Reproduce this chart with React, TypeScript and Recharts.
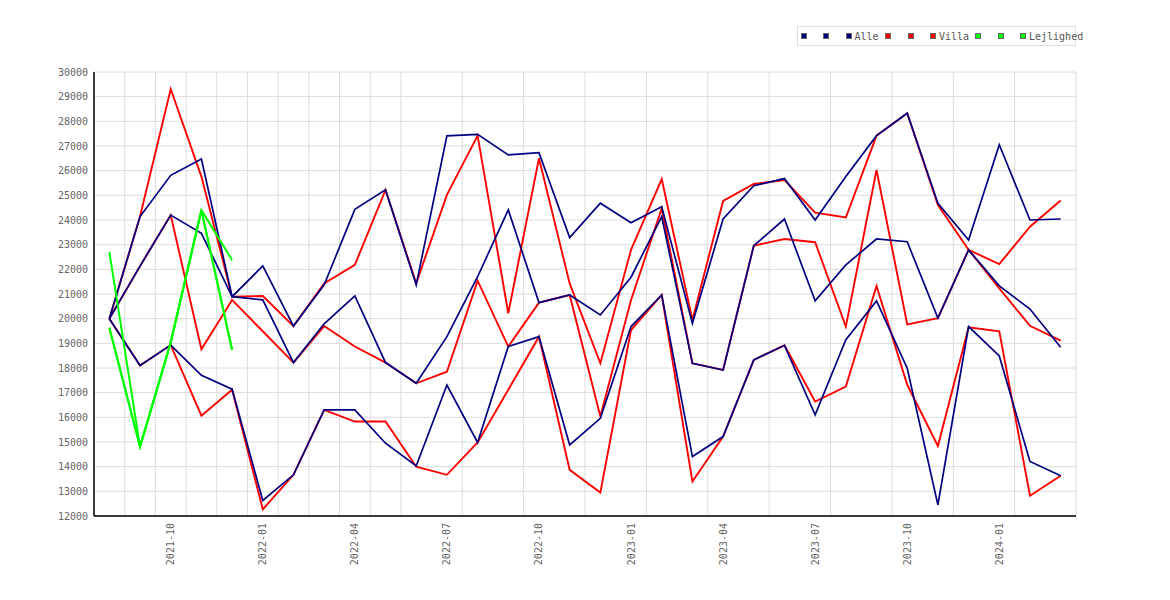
import React from 'react'
import { LineChart, Line, XAxis, YAxis, CartesianGrid } from 'recharts'

const months = [
  '2021-08', '2021-09', '2021-10', '2021-11', '2021-12',
  '2022-01', '2022-02', '2022-03', '2022-04', '2022-05', '2022-06',
  '2022-07', '2022-08', '2022-09', '2022-10', '2022-11', '2022-12',
  '2023-01', '2023-02', '2023-03', '2023-04', '2023-05', '2023-06',
  '2023-07', '2023-08', '2023-09', '2023-10', '2023-11', '2023-12',
  '2024-01', '2024-02', '2024-03',
]
const labelMonths = ['2021-10', '2022-01', '2022-04', '2022-07', '2022-10', '2023-01', '2023-04', '2023-07', '2023-10', '2024-01']
const yTicks = [12000, 13000, 14000, 15000, 16000, 17000, 18000, 19000, 20000, 21000,
  22000, 23000, 24000, 25000, 26000, 27000, 28000, 29000, 30000]

// Alle
const alle1 = [20000, 24140, 25810, 26470, 20890, 22140, 19700, 21370, 24430, 25220, 21370,
  27410, 27470, 26640, 26730, 23290, 24680, 23890, 24540, 19810, 24040, 25390, 25680,
  24000, 25760, 27420, 28330, 24680, 23190, 27050, 24000, 24040]
const alle2 = [20000, 22130, 24200, 23460, 20890, 20760, 18220, 19790, 20920, 18220, 17380,
  19270, 21700, 24410, 20650, 20960, 20150, 21680, 24140, 18190, 17920, 22960, 24040,
  20720, 22180, 23230, 23120, 20020, 22790, 21330, 20390, 18840]
const alle3 = [20000, 18100, 18930, 17700, 17140, 12630, 13670, 16300, 16300, 14950, 14030,
  17310, 14980, 18870, 19270, 14880, 15960, 19680, 20960, 14410, 15220, 18330, 18920,
  16100, 19150, 20720, 17990, 12450, 19680, 18490, 14210, 13630]

// Villa
const villa1 = [20000, 24140, 29310, 25760, 20890, 20920, 19700, 21430, 22180, 25220, 21430,
  25020, 27420, 20220, 26500, 21430, 18190, 22790, 25660, 19950, 24770, 25460, 25620,
  24300, 24100, 27420, 28330, 24610, 22790, 22210, 23730, 24790]
const villa2 = [20000, 22130, 24200, 18760, 20760, 19490, 18220, 19700, 18870, 18220, 17380,
  17850, 21540, 18870, 20650, 20960, 16030, 20760, 24470, 18190, 17920, 22960, 23230,
  23100, 19680, 26030, 19770, 20020, 22790, 21230, 19710, 19110]
const villa3 = [20000, 18100, 18930, 16070, 17120, 12270, 13670, 16300, 15830, 15830, 14000,
  13670, 14980, 17120, 19270, 13870, 12950, 19540, 20960, 13400, 15220, 18330, 18920,
  16640, 17250, 21330, 17320, 14840, 19650, 19490, 12820, 13630]

// Lejlighed (only the first months)
const lejl1 = [22710, 14810, 19030, 24400, 22380]
const lejl2 = [19630, 14810, 19030, 24400, 18730]
const lejl3 = [19630, 14810, 19030, 24400, 18730]

const legendGroups = [
  { name: 'Alle', color: '#000080' },
  { name: 'Villa', color: '#ff0000' },
  { name: 'Lejlighed', color: '#00ff00' },
]

const data = months.map((m, i) => ({
  i,
  month: m,
  a1: alle1[i], a2: alle2[i], a3: alle3[i],
  v1: villa1[i], v2: villa2[i], v3: villa3[i],
  l1: lejl1[i] ?? null, l2: lejl2[i] ?? null, l3: lejl3[i] ?? null,
}))

const labelTicks = labelMonths.map((m) => months.indexOf(m))
const gridTicks = months.map((_, i) => i + 0.5)

const FONT = '"DejaVu Sans Mono", monospace'

const MonthTick = (props: any) => {
  const { x, y, payload } = props
  return (
    <text
      x={x}
      y={y}
      transform={`rotate(-90, ${x}, ${y})`}
      textAnchor="end"
      dominantBaseline="central"
      fontSize={10}
      fontFamily={FONT}
      fill="#666"
    >
      {months[payload.value]}
    </text>
  )
}

// legend group starts, relative to the legend box
const groupLeft = [3.7, 88.3, 178.3]

function LegendBox() {
  return (
    <div
      style={{
        position: 'absolute', left: 789, top: 18, width: 279, height: 20, boxSizing: 'border-box',
        border: '1px solid #ddd', background: '#fff', fontFamily: FONT, fontSize: 10, color: '#555',
        whiteSpace: 'nowrap', overflow: 'visible',
      }}
    >
      {legendGroups.map((g, gi) => (
        <div key={g.name} style={{ position: 'absolute', left: groupLeft[gi] - 1, top: 0, height: 18, display: 'flex', alignItems: 'center' }}>
          {[0, 1, 2].map((k) => (
            <span
              key={k}
              style={{
                display: 'inline-block', width: 4, height: 4, background: g.color,
                border: '1px solid #666', marginRight: k < 2 ? 16.5 : 2.7,
              }}
            />
          ))}
          <span>{g.name}</span>
        </div>
      ))}
    </div>
  )
}

export default function App() {
  const base = { type: 'linear' as const, dot: false, activeDot: false, isAnimationActive: false }
  return (
    <div style={{ position: 'relative', width: 1162, height: 584, background: '#fff' }}>
      <LineChart width={1162} height={584} data={data} margin={{ top: 64, right: 94, left: 0, bottom: 16 }}>
        <XAxis xAxisId="grid" type="number" dataKey="i" domain={[-0.5, 31.5]} ticks={gridTicks} hide />
        <CartesianGrid xAxisId="grid" stroke="#dcdcdc" strokeWidth={1} />
        <XAxis
          type="number"
          dataKey="i"
          domain={[-0.5, 31.5]}
          ticks={labelTicks}
          interval={0}
          height={60}
          tickLine={false}
          tickSize={0}
          tickMargin={7}
          axisLine={{ stroke: '#000', strokeWidth: 1.5 }}
          tick={<MonthTick />}
        />
        <YAxis
          domain={[12000, 30000]}
          ticks={yTicks}
          interval={0}
          width={86}
          tickLine={false}
          tickSize={0}
          tickMargin={6}
          axisLine={{ stroke: '#000', strokeWidth: 1.5 }}
          tick={{ fontSize: 10, fontFamily: FONT, fill: '#666' }}
        />
        <Line dataKey="v1" stroke="#ff0000" strokeWidth={1.9} {...base} />
        <Line dataKey="v2" stroke="#ff0000" strokeWidth={1.9} {...base} />
        <Line dataKey="v3" stroke="#ff0000" strokeWidth={1.9} {...base} />
        <Line dataKey="a1" stroke="#000080" strokeWidth={1.7} {...base} />
        <Line dataKey="a2" stroke="#000080" strokeWidth={1.7} {...base} />
        <Line dataKey="a3" stroke="#000080" strokeWidth={1.7} {...base} />
        <Line dataKey="l1" stroke="#00ff00" strokeWidth={2} {...base} />
        <Line dataKey="l2" stroke="#00ff00" strokeWidth={2} {...base} />
        <Line dataKey="l3" stroke="#00ff00" strokeWidth={2} {...base} />
      </LineChart>
      <LegendBox />
    </div>
  )
}
